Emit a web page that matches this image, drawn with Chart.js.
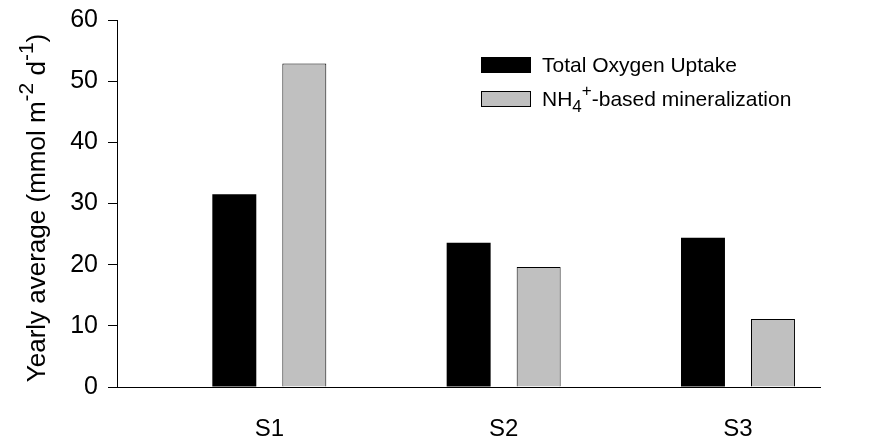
<!DOCTYPE html>
<html>
<head>
<meta charset="utf-8">
<script src="https://cdn.jsdelivr.net/npm/chart.js@4/dist/chart.umd.min.js"></script>
<style>
  html, body { margin: 0; padding: 0; background: #fff; }
  canvas { display: block; }
</style>
</head>
<body>
<canvas id="mineralChart" width="881" height="440"></canvas>
<script>
const sites = ['S1', 'S2', 'S3'];
const totalOxygenUptake = [31.5, 23.6, 24.4];
const nh4Mineralization = [52.9, 19.6, 11.1];
const yTicks = [0, 10, 20, 30, 40, 50, 60];

// rich text pieces (sub/superscripts) for legend and y title
const legendTexts = [
    [{ t: 'Total Oxygen Uptake' }],
    [{ t: 'NH' }, { t: '4', sub: true }, { t: '+', sup: true }, { t: '-based mineralization' }]
];
const yTitle = [
    { t: 'Yearly average (mmol m' }, { t: '-2', sup: true }, { t: ' d' }, { t: '-1', sup: true }, { t: ')' }
];

const FONT = '"Liberation Sans", Arial, sans-serif';

function richWidth(ctx, parts, size) {
    let w = 0;
    parts.forEach(p => {
        const s = (p.sub || p.sup) ? Math.round(size * 0.82) : size;
        ctx.font = s + 'px ' + FONT;
        w += ctx.measureText(p.t).width;
    });
    return w;
}

function drawRich(ctx, parts, x, y, size) {
    parts.forEach(p => {
        const s = (p.sub || p.sup) ? Math.round(size * 0.82) : size;
        ctx.font = s + 'px ' + FONT;
        let dy = 0;
        if (p.sup) dy = -size * 0.48;
        if (p.sub) dy = size * 0.3;
        ctx.fillText(p.t, x, y + dy);
        x += ctx.measureText(p.t).width;
    });
}

const richTextPlugin = {
    id: 'richText',
    afterDraw(chart) {
        const ctx = chart.ctx;
        ctx.save();
        ctx.fillStyle = '#000';
        ctx.textBaseline = 'alphabetic';
        ctx.textAlign = 'left';

        // y axis title
        const tw = richWidth(ctx, yTitle, 26);
        ctx.save();
        ctx.translate(45, 208);
        ctx.rotate(-Math.PI / 2);
        drawRich(ctx, yTitle, -tw / 2, 0, 26);
        ctx.restore();

        // legend
        chart.data.datasets.forEach((ds, i) => {
            const bx = 481, by = 57 + i * 34;
            ctx.fillStyle = ds.backgroundColor;
            ctx.fillRect(bx, by, 50, 16);
            if (ds.borderWidth) {
                ctx.strokeStyle = ds.borderColor;
                ctx.lineWidth = 1;
                ctx.strokeRect(bx + 0.5, by + 0.5, 49, 15);
            }
            ctx.fillStyle = '#000';
            drawRich(ctx, legendTexts[i], 542, by + 15, 21);
        });
        ctx.restore();
    }
};

new Chart(document.getElementById('mineralChart'), {
    type: 'bar',
    data: {
        datasets: [{
            label: 'Total Oxygen Uptake',
            data: totalOxygenUptake.map((v, i) => ({ x: i + 1, y: v })),
            backgroundColor: '#000000',
            borderWidth: 0
        }, {
            label: 'NH4+-based mineralization',
            data: nh4Mineralization.map((v, i) => ({ x: i + 1, y: v })),
            backgroundColor: '#c0c0c0',
            borderColor: '#000000',
            borderWidth: 1
        }]
    },
    options: {
        responsive: false,
        animation: false,
        categoryPercentage: 0.5975,
        barPercentage: 0.628,
        layout: { padding: { left: 0, right: 61, top: 20, bottom: 0 } },
        plugins: {
            legend: { display: false },
            tooltip: { enabled: false }
        },
        scales: {
            x: {
                type: 'linear',
                offset: false,
                min: 0.35,
                max: 3.35,
                afterBuildTicks: s => { s.ticks = sites.map((_, i) => ({ value: i + 1 })); },
                afterFit: s => { s.height = 53; s.paddingLeft = 0; s.paddingRight = 0; },
                grid: { display: false, drawTicks: false },
                border: { display: true, color: '#000', width: 1 },
                ticks: {
                    padding: 28,
                    color: '#000',
                    font: { family: FONT, size: 24 },
                    callback: v => sites[v - 1] || ''
                }
            },
            y: {
                min: 0,
                max: 60,
                afterBuildTicks: s => { s.ticks = yTicks.map(v => ({ value: v })); },
                afterFit: s => { s.width = 117; s.paddingTop = 0; s.paddingBottom = 0; },
                grid: { drawOnChartArea: false, drawTicks: true, tickLength: 9, color: '#000' },
                border: { display: true, color: '#000', width: 1 },
                ticks: {
                    padding: 10,
                    color: '#000',
                    font: { family: FONT, size: 25 }
                }
            }
        }
    },
    plugins: [richTextPlugin]
});
</script>
</body>
</html>
